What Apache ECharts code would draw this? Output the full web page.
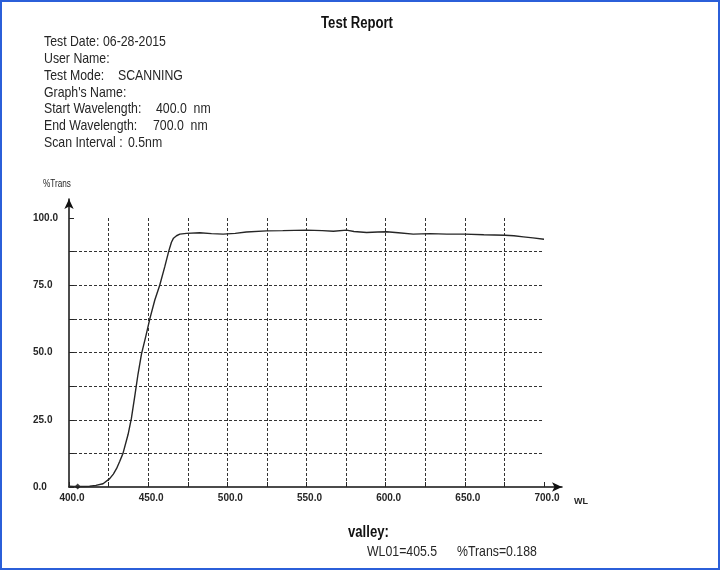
<!DOCTYPE html>
<html lang="en">
  <head>
    <meta charset="UTF-8" />
    <title>Test Report</title>
    <style>
      body {
        margin: 0;
        background: #fff;
      }
    </style>
  </head>
  <body>
    <div id="main" style="width: 720px; height: 570px;"></div>

    <script src="https://cdn.jsdelivr.net/npm/echarts@6/dist/echarts.min.js"></script>
    <script>
      // wavelength (nm) and %Trans
      const wl = [
        400, 403, 405.5, 410, 413, 417, 421.5, 425.7, 428, 430, 432, 434.1, 437.3, 439.4,
        441.5, 443.6, 445.8, 448.5, 451, 454.2, 457.3, 460.5, 463, 464.7, 466, 467.9, 470,
        474.2, 482.6, 490, 497.3, 505, 512, 524.8, 535, 550, 560, 567, 575.3, 580, 588, 595,
        600.6, 608, 617.4, 628, 638.6, 650, 662, 675.4, 681, 687, 693, 700
      ]
      const trans = [
        0.3, 0.2, 0.188, 0.2, 0.3, 0.6, 1.2, 3.1, 4.8, 6.8, 9.5, 12.5, 19.5, 25.5,
        33.6, 42.0, 49.5, 56.0, 62.4, 69.5, 75.0, 81.9, 87.7, 91.0, 92.5, 93.4, 94.0,
        94.3, 94.5, 94.2, 94.0, 94.3, 94.8, 95.2, 95.3, 95.5, 95.3, 95.1, 95.5, 95.0, 94.6, 94.8,
        94.9, 94.5, 94.0, 94.2, 94.0, 94.0, 93.8, 93.6, 93.4, 93.0, 92.6, 92.1
      ]
      const valley = [405.5, 0.188]

      const xTickLabels = [400, 450, 500, 550, 600, 650, 700]
      const yTickLabels = [0, 25, 50, 75, 100]

      const metaLines = [
        ['Test Date:', '06-28-2015'],
        ['User Name:', ''],
        ['Test Mode:', 'SCANNING'],
        ["Graph's Name:", ''],
        ['Start Wavelength:', '400.0  nm'],
        ['End Wavelength:', '700.0  nm'],
        ['Scan Interval :', '0.5nm']
      ]
      const metaValueX = [103, 0, 118, 0, 156, 153, 128]

      // no narrow face installed, so the printer's condensed type is squeezed by hand
      const sans = "'Liberation Sans', Arial, sans-serif"
      const squeeze = 0.82
      const ink = '#262626'

      let myChart = echarts.init(document.getElementById('main'))

      function label(x, y, text, font, extra) {
        let style = { text: text, fill: ink, font: font + ' ' + sans, verticalAlign: 'middle' }
        Object.assign(style, extra || {})
        return { type: 'text', x: x, y: y, scaleX: squeeze, style: style }
      }

      let graphics = [
        {
          type: 'rect',
          shape: { x: 1, y: 1, width: 718, height: 568 },
          style: { fill: 'none', stroke: '#2b5fd9', lineWidth: 2 },
          silent: true
        },
        label(357, 24, 'Test Report', 'bold 16px', { align: 'center', fill: '#111' }),
        label(43, 184, '%Trans', '10px'),
        label(348, 533, 'valley:', 'bold 16px', { fill: '#111' }),
        label(367, 552, 'WL01=' + valley[0].toFixed(1), '15px'),
        label(457, 552, '%Trans=' + valley[1].toFixed(3), '15px')
      ]
      metaLines.forEach(function (line, i) {
        let y = 42 + i * 16.8
        graphics.push(label(44, y, line[0], '15px'))
        if (line[1]) {
          graphics.push(label(metaValueX[i], y, line[1], '15px'))
        }
      })

      let gridLine = {
        show: true,
        showMinLine: false,
        showMaxLine: false,
        lineStyle: { color: '#333', width: 1, type: [3, 2] }
      }

      let option = {
        backgroundColor: '#fff',
        animation: false,
        graphic: graphics,
        grid: [
          // plotting area 400-700 nm, 0-100 %
          { left: 69, right: 176, top: 218, bottom: 83 },
          // a bit larger, only to carry the arrowed axis lines
          { left: 69, right: 158, top: 199, bottom: 83 }
        ],
        xAxis: [
          {
            type: 'value',
            gridIndex: 0,
            min: 400,
            max: 700,
            interval: 25,
            axisLine: { show: false },
            axisTick: { show: true, inside: true, length: 5, lineStyle: { color: ink } },
            axisLabel: {
              margin: 6,
              padding: [0, 0, 0, 6],
              color: ink,
              fontFamily: sans,
              fontWeight: 'bold',
              fontSize: 10,
              formatter: function (v) {
                return xTickLabels.indexOf(v) >= 0 ? v.toFixed(1) : ''
              }
            },
            splitLine: gridLine
          },
          {
            type: 'value',
            gridIndex: 1,
            min: 0,
            max: 1,
            name: 'WL',
            nameLocation: 'end',
            nameGap: 12,
            nameTextStyle: {
              color: ink,
              fontFamily: sans,
              fontWeight: 'bold',
              fontSize: 9,
              verticalAlign: 'top',
              padding: [10, 0, 0, 0]
            },
            axisLine: {
              onZero: false,
              symbol: ['none', 'arrow'],
              symbolSize: [7, 10],
              lineStyle: { color: '#111', width: 1.5 }
            },
            axisTick: { show: false },
            axisLabel: { show: false },
            splitLine: { show: false }
          }
        ],
        yAxis: [
          {
            type: 'value',
            gridIndex: 0,
            min: 0,
            max: 100,
            interval: 12.5,
            axisLine: { show: false },
            axisTick: { show: true, inside: true, length: 5, lineStyle: { color: ink } },
            axisLabel: {
              align: 'left',
              margin: 36,
              color: ink,
              fontFamily: sans,
              fontWeight: 'bold',
              fontSize: 10,
              formatter: function (v) {
                return yTickLabels.indexOf(v) >= 0 ? v.toFixed(1) : ''
              }
            },
            splitLine: gridLine
          },
          {
            type: 'value',
            gridIndex: 1,
            min: 0,
            max: 1,
            axisLine: {
              onZero: false,
              symbol: ['none', 'arrow'],
              symbolSize: [7, 10],
              lineStyle: { color: '#111', width: 1.5 }
            },
            axisTick: { show: false },
            axisLabel: { show: false },
            splitLine: { show: false }
          }
        ],
        series: [
          {
            name: '%Trans',
            type: 'line',
            xAxisIndex: 0,
            yAxisIndex: 0,
            showSymbol: false,
            lineStyle: { color: ink, width: 1.4 },
            data: wl.map(function (w, i) {
              return [w, trans[i]]
            })
          },
          {
            name: 'valley',
            type: 'scatter',
            xAxisIndex: 0,
            yAxisIndex: 0,
            symbol: 'diamond',
            symbolSize: 6,
            itemStyle: { color: '#111' },
            data: [valley]
          }
        ]
      }
      myChart.setOption(option)
    </script>
  </body>
</html>
